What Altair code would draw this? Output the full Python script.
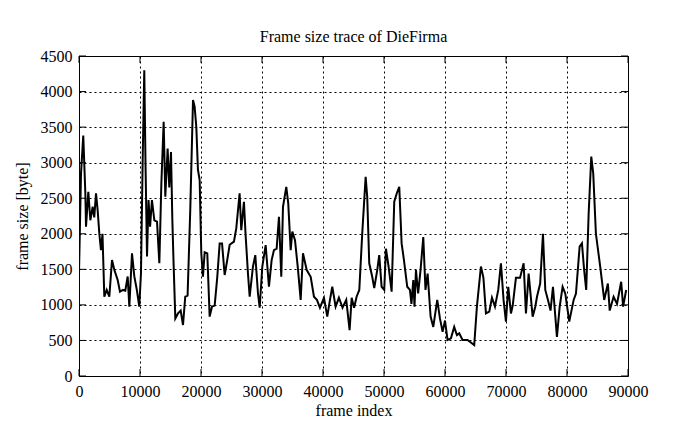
import altair as alt
import pandas as pd

frame_index = [0, 330, 700, 1040, 1150, 1530, 1860, 2240, 2500, 2790, 3060, 3330, 3600, 3850, 4150,
    4540, 4970, 5410, 5800, 6340, 6720, 7200, 7590, 7980, 8250, 8690, 9070, 9500, 9880, 10160,
    10440, 10700, 10900, 11150, 11400, 11650, 11960, 12350, 12790, 13170, 13500, 13880, 14150, 14530,
    14800, 15080, 15300, 15500, 15790, 16230, 16670, 17050, 17420, 17800, 18240, 18690, 18950, 19230,
    19500, 19780, 20050, 20320, 20600, 21030, 21420, 21800, 22240, 22670, 23060, 23450, 23880, 24300,
    24700, 25400, 25780, 26330, 26600, 27040, 27300, 27700, 27980, 28520, 28900, 29340, 29620, 30050,
    30600, 31140, 31580, 31960, 32400, 32780, 33160, 33440, 33980, 34300, 34700, 34970, 35410, 35900,
    36340, 36720, 37330, 37980, 38520, 39000, 39500, 40160, 40700, 41100, 41520, 42070, 42610, 43200,
    43810, 44360, 44700, 45100, 45510, 45950, 46430, 46990, 47250, 47580, 48070, 48400, 48890, 49220,
    49610, 50040, 50320, 50750, 51250, 51680, 52100, 52500, 52890, 53270, 53810, 54250, 54500, 54800,
    55000, 55240, 55600, 56000, 56440, 56800, 57150, 57640, 58080, 58730, 59170, 59610, 60000, 60420,
    60970, 61510, 61950, 62330, 62880, 63700, 64790, 65230, 65890, 66300, 66710, 67260, 67700, 68190,
    68730, 69170, 69600, 69990, 70370, 70810, 71100, 71630, 72300, 72890, 73270, 73710, 74370, 74800,
    75080, 75600, 76060, 76440, 76880, 77300, 77700, 78350, 78800, 79280, 79720, 80370, 81090, 81470,
    82070, 82450, 82800, 83150, 83550, 83980, 84300, 84740, 85440, 86100, 86700, 87000, 87640, 88200,
    88880, 89200, 89700]

frame_size = [1450, 2850, 3380, 2570, 2100, 2590, 2190, 2380, 2230, 2570, 2330, 2005, 1770, 2000, 1115,
    1210, 1115, 1630, 1490, 1350, 1185, 1210, 1200, 1400, 975, 1725, 1400, 1200, 975, 1445,
    3040, 4300, 3000, 1680, 2475, 2100, 2475, 2190, 2170, 1585, 2700, 3575, 2520, 3200,
    2650, 3150, 2200, 1600, 810, 880, 920, 717, 1115, 1130, 2335, 3880, 3790, 3505,
    2900, 2755, 1725, 1395, 1740, 1725, 835, 975, 990, 1395, 1865, 1865, 1420, 1630,
    1845, 1890, 2075, 2570, 2050, 2450, 2000, 1440, 1115, 1540, 1700, 1160, 960, 1540,
    1840, 1255, 1630, 1770, 1790, 2240, 1395, 2380, 2660, 2430, 1770, 2030, 1910, 1500,
    1070, 1725, 1490, 1395, 1115, 1070, 960, 1100, 835, 1050, 1255, 975, 1100, 960,
    1070, 645, 1100, 960, 1115, 1210, 2000, 2800, 2520, 1585, 1395, 1235, 1490, 1700,
    1255, 1210, 1790, 1540, 1185, 2450, 2570, 2660, 1865, 1630, 1255, 1210, 1015, 1350,
    975, 1490, 1160, 1500, 1955, 1210, 1440, 835, 690, 1070, 810, 620, 780, 506,
    530, 690, 575, 600, 506, 506, 435, 975, 1540, 1380, 880, 905, 1100, 975,
    1210, 1585, 1070, 765, 1255, 880, 990, 1380, 1380, 1585, 880, 1440, 835, 975,
    1115, 1300, 2000, 1210, 1070, 920, 1255, 550, 975, 1255, 1160, 765, 1070, 1160,
    1820, 1865, 1500, 1210, 2285, 3085, 2850, 2000, 1540, 1070, 1300, 920, 1115, 1015,
    1325, 975, 1210]

x_ticks = [0, 10000, 20000, 30000, 40000, 50000, 60000, 70000, 80000, 90000]
y_ticks = [0, 500, 1000, 1500, 2000, 2500, 3000, 3500, 4000, 4500]

W, H = 549, 320
FONT = "Liberation Serif"

df = pd.DataFrame({"frame": frame_index, "size": frame_size})
xt = pd.DataFrame({"v": x_ticks})
yt = pd.DataFrame({"v": y_ticks})

xscale = alt.Scale(domain=[0, 90000], nice=False, zero=False)
yscale = alt.Scale(domain=[0, 4500], nice=False, zero=False)

xaxis = alt.Axis(values=x_ticks, format="d", title="frame index", grid=True,
                 gridColor="black", gridDash=[2, 3], gridWidth=1, gridOpacity=1,
                 tickSize=0, labelPadding=7, titlePadding=3, domain=False,
                 labelFlush=False, labelOverlap=False,
                 labelFont=FONT, titleFont=FONT, labelFontSize=16, titleFontSize=16,
                 titleFontWeight="normal", labelColor="black", titleColor="black")
yaxis = alt.Axis(values=y_ticks, format="d", title="frame size [byte]", grid=True,
                 gridColor="black", gridDash=[2, 3], gridWidth=1, gridOpacity=1,
                 tickSize=0, labelPadding=7, titlePadding=10, domain=False,
                 labelFlush=False, labelOverlap=False,
                 labelFont=FONT, titleFont=FONT, labelFontSize=16, titleFontSize=16,
                 titleFontWeight="normal", labelColor="black", titleColor="black")

line = alt.Chart(df).mark_line(color="black", strokeWidth=2, strokeJoin="miter", clip=True).encode(
    x=alt.X("frame:Q", scale=xscale, axis=xaxis),
    y=alt.Y("size:Q", scale=yscale, axis=yaxis),
)

tk = 7
xt_bot = alt.Chart(xt).mark_rule(color="black", strokeWidth=1).encode(
    x=alt.X("v:Q", scale=xscale, axis=xaxis), y=alt.value(H), y2=alt.value(H - tk))
xt_top = alt.Chart(xt).mark_rule(color="black", strokeWidth=1).encode(
    x=alt.X("v:Q", scale=xscale, axis=xaxis), y=alt.value(0), y2=alt.value(tk))
yt_left = alt.Chart(yt).mark_rule(color="black", strokeWidth=1).encode(
    y=alt.Y("v:Q", scale=yscale, axis=yaxis), x=alt.value(0), x2=alt.value(tk))
yt_right = alt.Chart(yt).mark_rule(color="black", strokeWidth=1).encode(
    y=alt.Y("v:Q", scale=yscale, axis=yaxis), x=alt.value(W), x2=alt.value(W - tk))

chart = alt.layer(line, xt_bot, xt_top, yt_left, yt_right).properties(
    width=W, height=H,
    title=alt.TitleParams("Frame size trace of DieFirma", font=FONT, fontSize=16,
                          fontWeight="normal", color="black", anchor="middle",
                          baseline="bottom", offset=-13),
    autosize=alt.AutoSizeParams(type="none"),
    padding={"left": 71, "top": 48, "right": 59, "bottom": 45},
    background="white",
).configure_view(stroke="black", strokeWidth=1)

chart.save("out.html", embed_options={"renderer": "svg", "actions": False})
